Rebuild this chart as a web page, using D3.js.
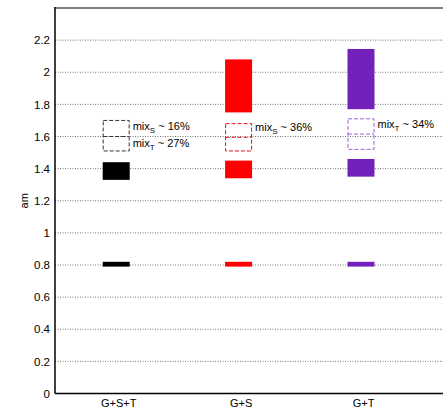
<!DOCTYPE html>
<html>
<head>
<meta charset="utf-8">
<script src="https://cdn.jsdelivr.net/npm/d3@7"></script>
<style>
  html, body { margin: 0; padding: 0; background: #fff; }
  svg text { font-family: "Liberation Sans", Arial, Helvetica, sans-serif; }
</style>
</head>
<body>
<svg id="chart" width="447" height="408"></svg>
<script>
// Mass ranges (am) for each mixing scenario
const categories = ["G+S+T", "G+S", "G+T"];
const colors = ["#000000", "#ff0000", "#7222bb"];
const dashColors = ["#333333", "#e01010", "#a060d8"];

// lowest state band
const lowBottom = [0.79, 0.79, 0.79];
const lowTop = [0.82, 0.82, 0.82];
// middle state band
const midBottom = [1.33, 1.34, 1.35];
const midTop = [1.44, 1.45, 1.46];
// upper state band (not present for G+S+T)
const upBottom = [null, 1.75, 1.77];
const upTop = [null, 2.08, 2.145];
// mixed-state dashed boxes
const mixBottom = [1.51, 1.51, 1.52];
const mixSplit = [1.60, 1.595, 1.615];
const mixTop = [1.70, 1.68, 1.71];

// mixing annotations
const noteCategory = [0, 0, 1, 2];
const noteSub = ["S", "T", "S", "T"];
const noteText = ["~ 16%", "~ 27%", "~ 36%", "~ 34%"];
const noteValue = [1.64, 1.535, 1.635, 1.653];

const yTicks = [0, 0.2, 0.4, 0.6, 0.8, 1, 1.2, 1.4, 1.6, 1.8, 2, 2.2];

const svg = d3.select("#chart");
const plotLeft = 55, plotRight = 443, plotTop = 8, plotBottom = 393.5;

const x = d3.scaleLinear().domain([0.5, 3.67]).range([plotLeft, plotRight]);
const y = d3.scaleLinear().domain([0, 2.4]).range([plotBottom, plotTop]);
const boxW = 27;

// dotted grid
svg.append("g").selectAll("line")
  .data(yTicks.filter(d => d > 0))
  .join("line")
  .attr("x1", plotLeft).attr("x2", plotRight)
  .attr("y1", d => y(d)).attr("y2", d => y(d))
  .attr("stroke", "#777").attr("stroke-width", 1)
  .attr("stroke-dasharray", "1,1.5");

// y axis labels
const yAxis = d3.axisLeft(y).tickValues(yTicks).tickSize(0).tickPadding(5)
  .tickFormat(d3.format("~g"));
const gy = svg.append("g").attr("transform", `translate(${plotLeft},0)`).call(yAxis);
gy.select(".domain").remove();
gy.selectAll("text").attr("font-size", 11.5).attr("fill", "#000")
  .style("font-family", "'Liberation Sans', Arial, sans-serif");

// x axis labels
const xAxis = d3.axisBottom(x).tickValues([1, 2, 3]).tickSize(0).tickPadding(6)
  .tickFormat((d, i) => categories[i]);
const gx = svg.append("g").attr("transform", `translate(2,${plotBottom})`).call(xAxis);
gx.select(".domain").remove();
gx.selectAll("text").attr("font-size", 11).attr("fill", "#000")
  .style("font-family", "'Liberation Sans', Arial, sans-serif");

// frame
svg.append("line").attr("x1", plotLeft).attr("x2", plotRight).attr("y1", plotTop).attr("y2", plotTop)
  .attr("stroke", "#808080").attr("stroke-width", 2);
svg.append("line").attr("x1", plotLeft).attr("x2", plotLeft).attr("y1", plotTop - 1).attr("y2", plotBottom)
  .attr("stroke", "#000").attr("stroke-width", 1.5);
svg.append("line").attr("x1", plotLeft).attr("x2", plotRight).attr("y1", plotBottom).attr("y2", plotBottom)
  .attr("stroke", "#000").attr("stroke-width", 1.5);

// y title
svg.append("text")
  .attr("transform", `translate(28,${(plotTop + plotBottom) / 2}) rotate(-90)`)
  .attr("text-anchor", "middle").attr("font-size", 11).text("am");

const idx = d3.range(categories.length);

function bands(lo, hi, cls) {
  svg.append("g").selectAll("rect")
    .data(idx.filter(i => lo[i] != null))
    .join("rect")
    .attr("class", cls)
    .attr("x", i => x(i + 1) - boxW / 2)
    .attr("width", boxW)
    .attr("y", i => y(hi[i]))
    .attr("height", i => y(lo[i]) - y(hi[i]))
    .attr("fill", i => colors[i]);
}
bands(lowBottom, lowTop, "low");
bands(midBottom, midTop, "mid");
bands(upBottom, upTop, "up");

// dashed mixing boxes
const mix = svg.append("g").selectAll("g").data(idx).join("g");
mix.append("rect")
  .attr("x", i => x(i + 1) - boxW / 2 + 0.5)
  .attr("width", boxW - 1)
  .attr("y", i => y(mixTop[i]))
  .attr("height", i => y(mixBottom[i]) - y(mixTop[i]))
  .attr("fill", "none")
  .attr("stroke", i => dashColors[i])
  .attr("stroke-width", 1)
  .attr("stroke-dasharray", "4,2");
mix.append("line")
  .attr("x1", i => x(i + 1) - boxW / 2 + 0.5)
  .attr("x2", i => x(i + 1) + boxW / 2 - 0.5)
  .attr("y1", i => y(mixSplit[i]))
  .attr("y2", i => y(mixSplit[i]))
  .attr("stroke", i => dashColors[i])
  .attr("stroke-width", 1)
  .attr("stroke-dasharray", "4,2");

// annotations
const notes = svg.append("g").selectAll("text")
  .data(d3.range(noteText.length))
  .join("text")
  .attr("x", k => x(noteCategory[k] + 1) + boxW / 2 + 3)
  .attr("y", k => y(noteValue[k]))
  .attr("font-size", 11)
  .attr("fill", "#000");
notes.append("tspan").text("mix");
notes.append("tspan").attr("font-size", 8).attr("dy", 3).text(k => noteSub[k]);
notes.append("tspan").attr("dy", -3).text(k => " " + noteText[k]);
</script>
</body>
</html>
